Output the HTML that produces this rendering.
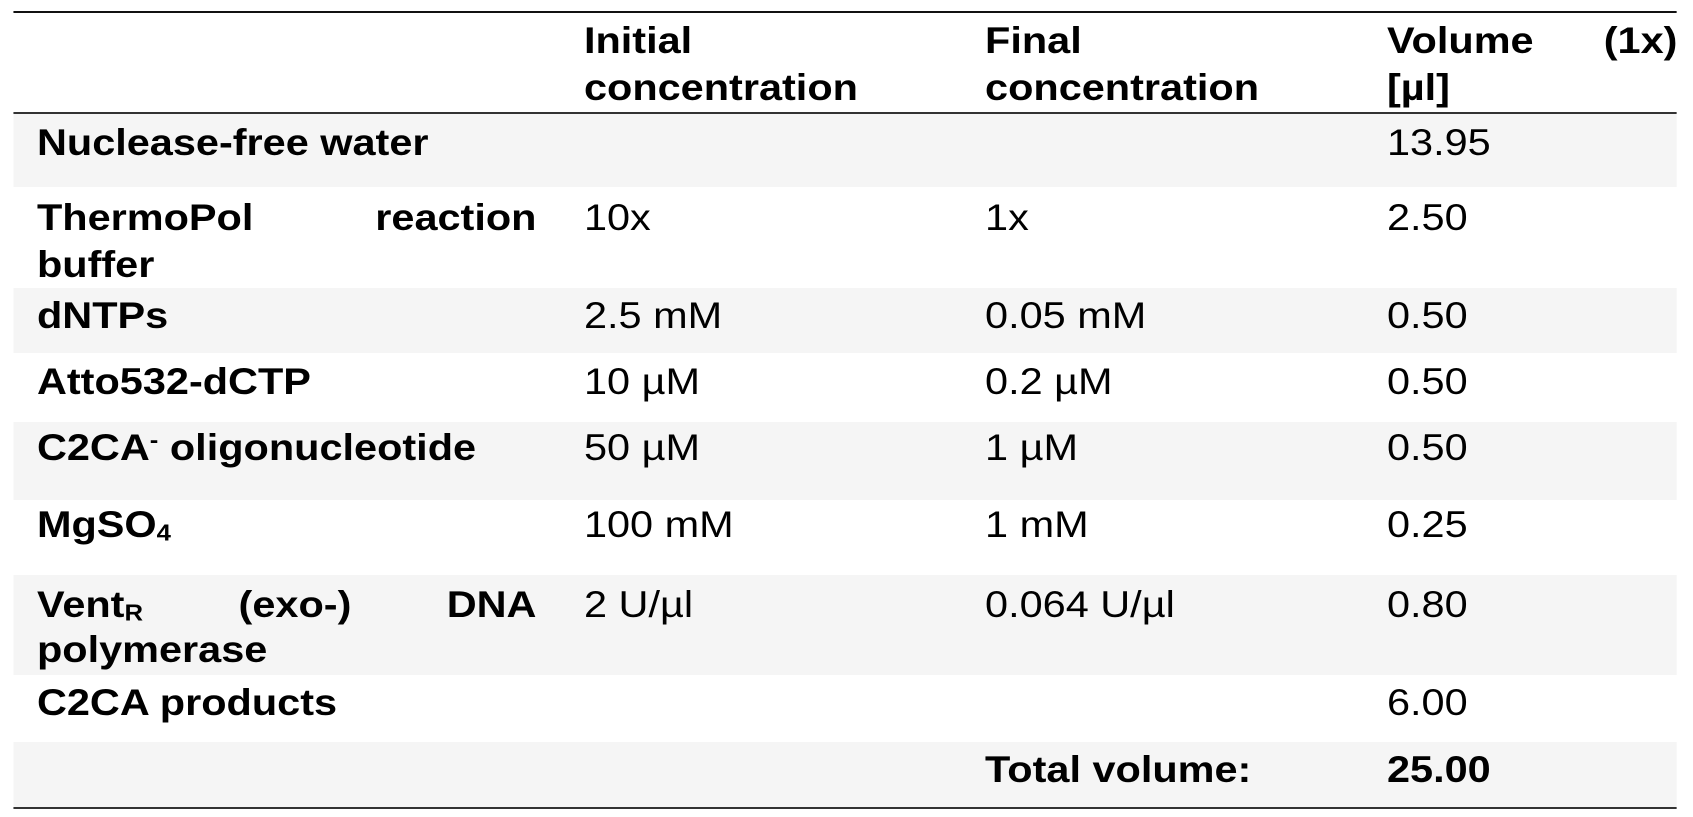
<!DOCTYPE html>
<html>
<head>
<meta charset="utf-8">
<style>
  html,body{margin:0;padding:0;background:#fff;}
  body{width:1693px;height:817px;overflow:hidden;position:relative;}
  #wrap{position:absolute;left:0;top:0;width:1512px;height:817px;transform:scale(1.12,1);transform-origin:0 0;
    font-family:"Liberation Sans",Arial,sans-serif;font-size:37px;color:#000;}
  .t{position:absolute;white-space:nowrap;line-height:normal;}
  .b{font-weight:bold;}
  .shade{position:absolute;left:11.6px;width:1485.7px;background:#f5f5f5;}
  .rule{position:absolute;left:11.6px;width:1485.7px;}
  sub{font-size:0.62em;vertical-align:-0.15em;line-height:0;}
  sup{font-size:0.62em;vertical-align:0.55em;line-height:0;}
</style>
</head>
<body>
<div id="wrap">
  <!-- row shading -->
  <div class="shade" style="top:114px;height:73px;"></div>
  <div class="shade" style="top:288px;height:65px;"></div>
  <div class="shade" style="top:422px;height:78px;"></div>
  <div class="shade" style="top:575px;height:100px;"></div>
  <div class="shade" style="top:742px;height:65px;"></div>

  <!-- rules -->
  <div class="rule" style="top:11px;height:2px;background:#111;"></div>
  <div class="rule" style="top:112px;height:2px;background:#333;"></div>
  <div class="rule" style="top:807px;height:2px;background:#333;"></div>

  <!-- header -->
  <div class="t b" style="left:521.4px;top:19.5px;">Initial</div>
  <div class="t b" style="left:521.4px;top:66.5px;">concentration</div>
  <div class="t b" style="left:879.5px;top:19.5px;">Final</div>
  <div class="t b" style="left:879.5px;top:66.5px;">concentration</div>
  <div class="t b" style="left:1238.4px;top:19.5px;">Volume</div>
  <div class="t b" style="right:14.3px;top:19.5px;">(1x)</div>
  <div class="t b" style="left:1238.4px;top:66.5px;">[µl]</div>

  <!-- row: water -->
  <div class="t b" style="left:33px;top:122px;">Nuclease-free water</div>
  <div class="t" style="left:1238.4px;top:122px;">13.95</div>

  <!-- row: thermopol -->
  <div class="t b" style="left:33px;top:196.5px;">ThermoPol</div>
  <div class="t b" style="right:1033px;top:196.5px;">reaction</div>
  <div class="t b" style="left:33px;top:243.5px;">buffer</div>
  <div class="t" style="left:521.4px;top:196.5px;">10x</div>
  <div class="t" style="left:879.5px;top:196.5px;">1x</div>
  <div class="t" style="left:1238.4px;top:196.5px;">2.50</div>

  <!-- row: dNTPs -->
  <div class="t b" style="left:33px;top:294.5px;">dNTPs</div>
  <div class="t" style="left:521.4px;top:294.5px;">2.5 mM</div>
  <div class="t" style="left:879.5px;top:294.5px;">0.05 mM</div>
  <div class="t" style="left:1238.4px;top:294.5px;">0.50</div>

  <!-- row: Atto -->
  <div class="t b" style="left:33px;top:361px;">Atto532-dCTP</div>
  <div class="t" style="left:521.4px;top:361px;">10 µM</div>
  <div class="t" style="left:879.5px;top:361px;">0.2 µM</div>
  <div class="t" style="left:1238.4px;top:361px;">0.50</div>

  <!-- row: C2CA- oligo -->
  <div class="t b" style="left:33px;top:427px;">C2CA<sup>-</sup> oligonucleotide</div>
  <div class="t" style="left:521.4px;top:427px;">50 µM</div>
  <div class="t" style="left:879.5px;top:427px;">1 µM</div>
  <div class="t" style="left:1238.4px;top:427px;">0.50</div>

  <!-- row: MgSO4 -->
  <div class="t b" style="left:33px;top:504px;">MgSO<sub>4</sub></div>
  <div class="t" style="left:521.4px;top:504px;">100 mM</div>
  <div class="t" style="left:879.5px;top:504px;">1 mM</div>
  <div class="t" style="left:1238.4px;top:504px;">0.25</div>

  <!-- row: Vent -->
  <div class="t b" style="left:33px;top:583.5px;">Vent<sub>R</sub></div>
  <div class="t b" style="left:213px;top:583.5px;">(exo-)</div>
  <div class="t b" style="right:1033px;top:583.5px;">DNA</div>
  <div class="t b" style="left:33px;top:628.5px;">polymerase</div>
  <div class="t" style="left:521.4px;top:583.5px;">2 U/µl</div>
  <div class="t" style="left:879.5px;top:583.5px;">0.064 U/µl</div>
  <div class="t" style="left:1238.4px;top:583.5px;">0.80</div>

  <!-- row: C2CA products -->
  <div class="t b" style="left:33px;top:681.5px;">C2CA products</div>
  <div class="t" style="left:1238.4px;top:681.5px;">6.00</div>

  <!-- total -->
  <div class="t b" style="left:879.5px;top:748.5px;">Total volume:</div>
  <div class="t b" style="left:1238.4px;top:748.5px;">25.00</div>
</div>
</body>
</html>
